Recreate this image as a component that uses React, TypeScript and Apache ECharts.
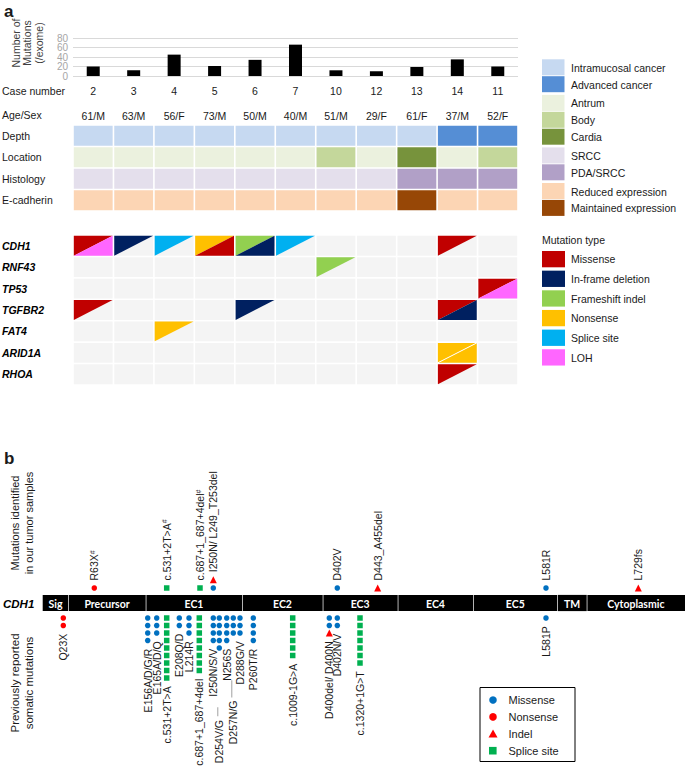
import React, { useEffect, useRef } from "react";
import * as echarts from "echarts";

// ---------------- Panel a data ----------------
const caseNumbers = ["2", "3", "4", "5", "6", "7", "10", "12", "13", "14", "11"];
const mutationsPerExome = [20, 12, 45, 21, 34, 66, 12, 10, 19, 35, 20];
const mutationTicks = [0, 20, 40, 60, 80];
const ageSex = ["61/M", "63/M", "56/F", "73/M", "50/M", "40/M", "51/M", "29/F", "61/F", "37/M", "52/F"];
const clinicalRows = ["Depth", "Location", "Histology", "E-cadherin"];
const depthValues = ["Intramucosal cancer", "Intramucosal cancer", "Intramucosal cancer", "Intramucosal cancer", "Intramucosal cancer", "Intramucosal cancer", "Intramucosal cancer", "Intramucosal cancer", "Intramucosal cancer", "Advanced cancer", "Advanced cancer"];
const locationValues = ["Antrum", "Antrum", "Antrum", "Antrum", "Antrum", "Antrum", "Body", "Antrum", "Cardia", "Antrum", "Body"];
const histologyValues = ["SRCC", "SRCC", "SRCC", "SRCC", "SRCC", "SRCC", "SRCC", "SRCC", "PDA/SRCC", "PDA/SRCC", "PDA/SRCC"];
const ecadherinValues = ["Reduced expression", "Reduced expression", "Reduced expression", "Reduced expression", "Reduced expression", "Reduced expression", "Reduced expression", "Reduced expression", "Maintained expression", "Reduced expression", "Reduced expression"];
const clinicalLegendGroups = [
  ["Intramucosal cancer", "Advanced cancer"],
  ["Antrum", "Body", "Cardia"],
  ["SRCC", "PDA/SRCC"],
  ["Reduced expression", "Maintained expression"],
];
const genes = ["CDH1", "RNF43", "TP53", "TGFBR2", "FAT4", "ARID1A", "RHOA"];
const mutationTypes = ["Missense", "In-frame deletion", "Frameshift indel", "Nonsense", "Splice site", "LOH"];
// [gene, case, upper-left triangle, lower-right triangle]
const mutationCalls: [string, string, string, string | null][] = [
  ["CDH1", "2", "Missense", "LOH"],
  ["CDH1", "3", "In-frame deletion", null],
  ["CDH1", "4", "Splice site", null],
  ["CDH1", "5", "Nonsense", "Missense"],
  ["CDH1", "6", "Frameshift indel", "In-frame deletion"],
  ["CDH1", "7", "Splice site", null],
  ["CDH1", "14", "Missense", null],
  ["RNF43", "10", "Frameshift indel", null],
  ["TP53", "11", "Missense", "LOH"],
  ["TGFBR2", "2", "Missense", null],
  ["TGFBR2", "6", "In-frame deletion", null],
  ["TGFBR2", "14", "Missense", "In-frame deletion"],
  ["FAT4", "4", "Nonsense", null],
  ["ARID1A", "14", "Nonsense", "Nonsense"],
  ["RHOA", "14", "Missense", null],
];

// ---------------- Panel b data ----------------
const domainNames = ["Sig", "Precursor", "EC1", "EC2", "EC3", "EC4", "EC5", "TM", "Cytoplasmic"];
// schematic positions of domain boundaries along the CDH1 bar
const domainBounds = [0, 25.6, 103, 199.6, 280, 355, 430.6, 514.6, 544, 642.3];
const ourLabels = ["R63X#", "c.531+2T>A#", "c.687+1_687+4del#", "I250N/ L249_T253del", "D402V", "D443_A455del", "L581R", "L729fs"];
const ourPositions = [51.6, 124, 157.3, 170.6, 294.6, 335, 503.3, 595.6];
const ourTypes = [["Nonsense"], ["Splice site"], ["Splice site"], ["Missense", "Indel"], ["Missense"], ["Indel"], ["Missense"], ["Indel"]];
const reportedLabels = ["Q23X", "E156A/D/G/R", "E165A/D/Q", "c.531+2T>A", "E208Q/D", "L214R", "c.687+1_687+4del", "I250N/S/V", "D254V/G", "N256S", "D257N/G", "D288G/V", "P260T/R", "c.1009-1G>A", "D400del/ D400N", "D402N/V", "c.1320+1G>T", "L581P"];
const reportedPositions = [20.6, 105, 114, 124, 136.6, 146.3, 156.6, 170.6, 176.6, 184, 190.6, 197.3, 210.6, 250, 286.6, 294.6, 317.3, 503.3];
const reportedMissense = [0, 4, 3, 0, 2, 3, 0, 4, 5, 4, 3, 3, 4, 0, 2, 2, 0, 1];
const reportedIndel = [0, 0, 0, 0, 0, 0, 0, 0, 0, 0, 0, 0, 0, 0, 1, 0, 0, 0];
const reportedNonsense = [2, 0, 0, 0, 0, 0, 0, 0, 0, 0, 0, 0, 0, 0, 0, 0, 0, 0];
const reportedSplice = [0, 0, 0, 9, 0, 0, 8, 0, 0, 0, 0, 0, 0, 6, 0, 0, 7, 0];
const markerTypes = ["Missense", "Nonsense", "Indel", "Splice site"];

// ---------------- styles ----------------
const FONT = "'Liberation Sans', Arial, sans-serif";
const TXT = "#1a1a1a";
const CLINICAL_COLORS: Record<string, string> = {
  "Intramucosal cancer": "#c6d9f1",
  "Advanced cancer": "#558ed5",
  Antrum: "#ebf1de",
  Body: "#c4d79b",
  Cardia: "#77933c",
  SRCC: "#e4dfec",
  "PDA/SRCC": "#b1a0c7",
  "Reduced expression": "#fcd5b4",
  "Maintained expression": "#974706",
};
const MUT_COLORS: Record<string, string> = {
  Missense: "#c00000",
  "In-frame deletion": "#002060",
  "Frameshift indel": "#92d050",
  Nonsense: "#ffc000",
  "Splice site": "#00b0f0",
  LOH: "#ff66ff",
};
const MARKER_STYLE: Record<string, { symbol: string; color: string; size: number }> = {
  Missense: { symbol: "circle", color: "#0070c0", size: 5.5 },
  Nonsense: { symbol: "circle", color: "#ff0000", size: 5.5 },
  Indel: { symbol: "triangle", color: "#ff0000", size: 7 },
  "Splice site": { symbol: "rect", color: "#00b050", size: 5.5 },
};
// labels with a leader line: [line start slot, line end slot, text start slot]
const LEADERS: Record<string, [number, number, number]> = {
  "D254V/G": [13.9, 15.1, 15.6],
  "D257N/G": [10.3, 12.6, 13.0],
};

function buildOption() {
  const clinicalValues = [depthValues, locationValues, histologyValues, ecadherinValues];
  const clinicalCells: number[][] = [];
  const clinicalFill: string[] = [];
  clinicalValues.forEach((row, r) =>
    row.forEach((v, c) => {
      clinicalCells.push([c, r]);
      clinicalFill.push(CLINICAL_COLORS[v]);
    })
  );
  const lookup = new Map<string, [string, string | null]>();
  mutationCalls.forEach(([g, c, u, l]) => lookup.set(g + "|" + c, [u, l]));
  const mutationCells: number[][] = [];
  genes.forEach((_, r) => caseNumbers.forEach((_, c) => mutationCells.push([c, r])));

  const markerData: Record<string, number[][]> = { Missense: [], Nonsense: [], Indel: [], "Splice site": [] };
  const labelItems: { text: string; x: number; slot: number; up: boolean; leader?: [number, number] }[] = [];
  ourPositions.forEach((x, i) => {
    let slot = -2;
    ourTypes[i].forEach((t) => {
      markerData[t].push([x, slot]);
      slot -= 1.1;
    });
    labelItems.push({ text: ourLabels[i], x, slot: slot + 0.1, up: true });
  });
  reportedPositions.forEach((x, i) => {
    let slot = 2;
    const push = (t: string, n: number) => {
      for (let k = 0; k < n; k++) {
        markerData[t].push([x, slot]);
        slot += 1;
      }
    };
    push("Missense", reportedMissense[i]);
    push("Indel", reportedIndel[i]);
    push("Nonsense", reportedNonsense[i]);
    push("Splice site", reportedSplice[i]);
    const lead = LEADERS[reportedLabels[i]];
    if (lead) labelItems.push({ text: reportedLabels[i], x, slot: lead[2], up: false, leader: [lead[0], lead[1]] });
    else labelItems.push({ text: reportedLabels[i], x, slot: slot + 0.1, up: false });
  });

  const graphic: any[] = [];
  const txt = (text: string, x: number, y: number, font: string, extra: any = {}) => ({
    type: "text",
    x,
    y,
    silent: true,
    style: {
      text,
      font,
      fill: TXT,
      align: "left",
      verticalAlign: "middle",
      textAlign: "left",
      textVerticalAlign: "middle",
      ...extra,
    },
  });
  const vtxt = (text: string, x: number, y: number, font: string, lineHeight: number, fill = TXT) => ({
    type: "text",
    x,
    y,
    rotation: Math.PI / 2,
    silent: true,
    style: {
      text,
      font,
      lineHeight,
      fill,
      align: "center",
      verticalAlign: "middle",
      textAlign: "center",
      textVerticalAlign: "middle",
    },
  });
  graphic.push(txt("a", 4, 11, `bold 17px ${FONT}`));
  graphic.push(txt("b", 4, 458, `bold 17px ${FONT}`));
  graphic.push(vtxt("Number of\nMutations\n(/exome)", 27, 43, `10.5px ${FONT}`, 11.5, "#404040"));
  graphic.push(txt("Case number", 2, 91, `10.5px ${FONT}`));
  graphic.push(txt("Age/Sex", 2, 115, `10.5px ${FONT}`));

  let ly = 59.3;
  clinicalLegendGroups.forEach((grp) => {
    grp.forEach((name) => {
      graphic.push({ type: "rect", silent: true, shape: { x: 542, y: ly, width: 22.5, height: 16 }, style: { fill: CLINICAL_COLORS[name] } });
      graphic.push(txt(name, 571, ly + 8.5, `10.5px ${FONT}`));
      ly += 16.9;
    });
    ly += 1.8;
  });
  graphic.push(txt("Mutation type", 542, 240, `10.5px ${FONT}`));
  mutationTypes.forEach((name, i) => {
    const y = 251 + i * 19.65;
    graphic.push({ type: "rect", silent: true, shape: { x: 542, y, width: 23, height: 16.3 }, style: { fill: MUT_COLORS[name] } });
    graphic.push(txt(name, 571, y + 8.3, `10.5px ${FONT}`));
  });

  graphic.push(txt("CDH1", 3, 603.5, `italic bold 11.5px ${FONT}`, { fill: "#000" }));
  graphic.push(vtxt("Mutations identified\nin our tumor samples", 22, 523, `11px ${FONT}`, 14));
  graphic.push(vtxt("Previously reported\nsomatic mutations", 22, 683, `11.5px ${FONT}`, 14));
  graphic.push({ type: "rect", silent: true, shape: { x: 480, y: 687.5, width: 95, height: 74 }, style: { fill: "#fff", stroke: "#000", lineWidth: 1 } });
  markerTypes.forEach((t, i) => {
    const cy = 700 + i * 16.9;
    const st = MARKER_STYLE[t];
    if (st.symbol === "circle") graphic.push({ type: "circle", silent: true, shape: { cx: 493, cy, r: 3.8 }, style: { fill: st.color } });
    else if (st.symbol === "triangle")
      graphic.push({ type: "polygon", silent: true, shape: { points: [[493, cy - 4.2], [497.5, cy + 3.6], [488.5, cy + 3.6]] }, style: { fill: st.color } });
    else graphic.push({ type: "rect", silent: true, shape: { x: 489, y: cy - 3.8, width: 7.6, height: 7.6 }, style: { fill: st.color } });
    graphic.push(txt(t, 508.5, cy, `11px ${FONT}`));
  });

  const superscript = (s: string) => (s.endsWith("#") ? s.slice(0, -1) + "{s|#}" : s);

  const series: any[] = [
    {
      type: "bar",
      xAxisIndex: 0,
      yAxisIndex: 0,
      data: mutationsPerExome,
      barWidth: 13,
      itemStyle: { color: "#000" },
      silent: true,
    },
    {
      type: "custom",
      xAxisIndex: 0,
      yAxisIndex: 0,
      data: mutationTicks.map((v) => [0, v]),
      silent: true,
      renderItem: (params: any, api: any) => {
        const v = mutationTicks[params.dataIndex];
        const p = api.coord([0, v]);
        return {
          type: "text",
          x: params.coordSys.x - 5,
          y: p[1],
          style: { text: String(v), font: `10px ${FONT}`, fill: "#a6a6a6", align: "right", verticalAlign: "middle", textAlign: "right", textVerticalAlign: "middle" },
        };
      },
    },
    {
      type: "custom",
      xAxisIndex: 1,
      yAxisIndex: 1,
      data: clinicalCells,
      silent: true,
      renderItem: (params: any, api: any) => {
        const c = clinicalCells[params.dataIndex];
        const p = api.coord([c[0], c[1]]);
        const s = api.size([1, 1]);
        return {
          type: "rect",
          shape: { x: p[0] - s[0] / 2 + 0.8, y: p[1] - s[1] / 2 + 0.8, width: s[0] - 1.6, height: s[1] - 1.6 },
          style: { fill: clinicalFill[params.dataIndex] },
        };
      },
    },
    {
      type: "custom",
      xAxisIndex: 2,
      yAxisIndex: 2,
      data: mutationCells,
      silent: true,
      renderItem: (params: any, api: any) => {
        const [ci, r] = mutationCells[params.dataIndex];
        const p = api.coord([ci, r]);
        const s = api.size([1, 1]);
        const x0 = p[0] - s[0] / 2 + 0.8, x1 = p[0] + s[0] / 2 - 0.8;
        const y0 = p[1] - s[1] / 2 + 0.8, y1 = p[1] + s[1] / 2 - 0.8;
        const children: any[] = [{ type: "rect", shape: { x: x0, y: y0, width: x1 - x0, height: y1 - y0 }, style: { fill: "#f4f4f4" } }];
        const call = lookup.get(genes[r] + "|" + caseNumbers[ci]);
        if (call) {
          const [u, l] = call;
          children.push({ type: "polygon", shape: { points: [[x0, y0], [x1, y0], [x0, y1]] }, style: { fill: MUT_COLORS[u] } });
          if (l) children.push({ type: "polygon", shape: { points: [[x1, y0], [x1, y1], [x0, y1]] }, style: { fill: MUT_COLORS[l] } });
          if (l === u) children.push({ type: "line", shape: { x1: x0, y1: y1, x2: x1, y2: y0 }, style: { stroke: "#fff", lineWidth: 1 } });
        }
        return { type: "group", children };
      },
    },
    {
      type: "custom",
      xAxisIndex: 3,
      yAxisIndex: 3,
      data: domainNames.map((_, i) => [domainBounds[i], 0]),
      silent: true,
      renderItem: (params: any, api: any) => {
        const i = params.dataIndex;
        const a = api.coord([domainBounds[i], -1.08]);
        const b = api.coord([domainBounds[i + 1], 1.08]);
        const gap = i === 0 ? 0 : 0.7;
        return {
          type: "group",
          children: [
            { type: "rect", shape: { x: a[0] + gap, y: a[1], width: b[0] - a[0] - gap, height: b[1] - a[1] }, style: { fill: "#000" } },
            {
              type: "text",
              x: (a[0] + b[0]) / 2,
              y: (a[1] + b[1]) / 2 + 0.5,
              style: { text: domainNames[i], fill: "#fff", font: "bold 10.5px Lato, sans-serif", align: "center", verticalAlign: "middle", textAlign: "center", textVerticalAlign: "middle" },
            },
          ],
        };
      },
    },
    ...markerTypes.map((t) => ({
      type: "scatter",
      xAxisIndex: 3,
      yAxisIndex: 3,
      data: markerData[t],
      symbol: MARKER_STYLE[t].symbol,
      symbolSize: MARKER_STYLE[t].size,
      itemStyle: { color: MARKER_STYLE[t].color, opacity: 1 },
      silent: true,
    })),
    {
      type: "custom",
      xAxisIndex: 3,
      yAxisIndex: 3,
      data: labelItems.map((l) => [l.x, l.slot]),
      silent: true,
      renderItem: (params: any, api: any) => {
        const it = labelItems[params.dataIndex];
        const p = api.coord([it.x, it.slot]);
        const children: any[] = [];
        if (it.leader) {
          const l0 = api.coord([it.x, it.leader[0]]);
          const l1 = api.coord([it.x, it.leader[1]]);
          children.push({ type: "line", shape: { x1: p[0] - 1.5, y1: l0[1], x2: p[0] - 1.5, y2: l1[1] }, style: { stroke: "#a0a0a0", lineWidth: 1 } });
        }
        children.push({
          type: "text",
          x: p[0],
          y: p[1],
          rotation: Math.PI / 2,
          style: {
            text: superscript(it.text),
            font: `10.5px ${FONT}`,
            fill: TXT,
            align: it.up ? "left" : "right",
            verticalAlign: "middle",
            textAlign: it.up ? "left" : "right",
            textVerticalAlign: "middle",
            rich: { s: { font: `7px ${FONT}`, fill: TXT, verticalAlign: "top" } },
          },
        });
        return { type: "group", children };
      },
    },
  ];

  return {
    animation: false,
    backgroundColor: "#fff",
    textStyle: { fontFamily: FONT },
    grid: [
      { left: 73, width: 445, top: 38, height: 38, containLabel: false, outerBoundsMode: "none" },
      { left: 73, width: 445, top: 125, height: 86, containLabel: false, outerBoundsMode: "none" },
      { left: 73, width: 445, top: 235, height: 150, containLabel: false, outerBoundsMode: "none" },
      { left: 42.7, right: 0, top: 528, bottom: 0, containLabel: false, outerBoundsMode: "none" },
    ],
    xAxis: [
      {
        gridIndex: 0,
        type: "category",
        data: caseNumbers,
        axisLine: { show: false },
        axisTick: { show: false },
        axisLabel: { margin: 9, fontSize: 10.5, color: TXT, fontFamily: FONT },
      },
      {
        gridIndex: 1,
        type: "category",
        data: caseNumbers,
        position: "top",
        axisLine: { show: false },
        axisTick: { show: false },
        axisLabel: { margin: 4, fontSize: 10.5, color: TXT, fontFamily: FONT, formatter: (_: string, i: number) => ageSex[i] },
      },
      { gridIndex: 2, type: "category", data: caseNumbers, show: false },
      { gridIndex: 3, type: "value", min: 0, max: 642.3, show: false },
    ],
    yAxis: [
      {
        gridIndex: 0,
        type: "value",
        min: 0,
        max: 80,
        interval: 20,
        axisLine: { show: false },
        axisTick: { show: false },
        axisLabel: { show: false },
        splitLine: { lineStyle: { color: "#d9d9d9", width: 1 } },
      },
      {
        gridIndex: 1,
        type: "category",
        data: clinicalRows,
        inverse: true,
        axisLine: { show: false },
        axisTick: { show: false },
        axisLabel: { align: "left", margin: 71, fontSize: 10.5, color: TXT, fontFamily: FONT },
      },
      {
        gridIndex: 2,
        type: "category",
        data: genes,
        inverse: true,
        axisLine: { show: false },
        axisTick: { show: false },
        axisLabel: { align: "left", margin: 71, fontSize: 10.5, color: "#000", fontStyle: "italic", fontWeight: "bold", fontFamily: FONT },
      },
      { gridIndex: 3, type: "value", min: -10, max: 22, inverse: true, show: false },
    ],
    graphic,
    series,
  };
}

export default function App() {
  const ref = useRef<HTMLDivElement>(null);
  useEffect(() => {
    if (!ref.current) return;
    const chart = echarts.init(ref.current, null, { renderer: "svg" });
    chart.setOption(buildOption() as any);
    return () => chart.dispose();
  }, []);
  return (
    <div
      ref={ref}
      style={{ position: "absolute", left: 0, top: 0, width: 685, height: 768, background: "#fff" }}
    />
  );
}
